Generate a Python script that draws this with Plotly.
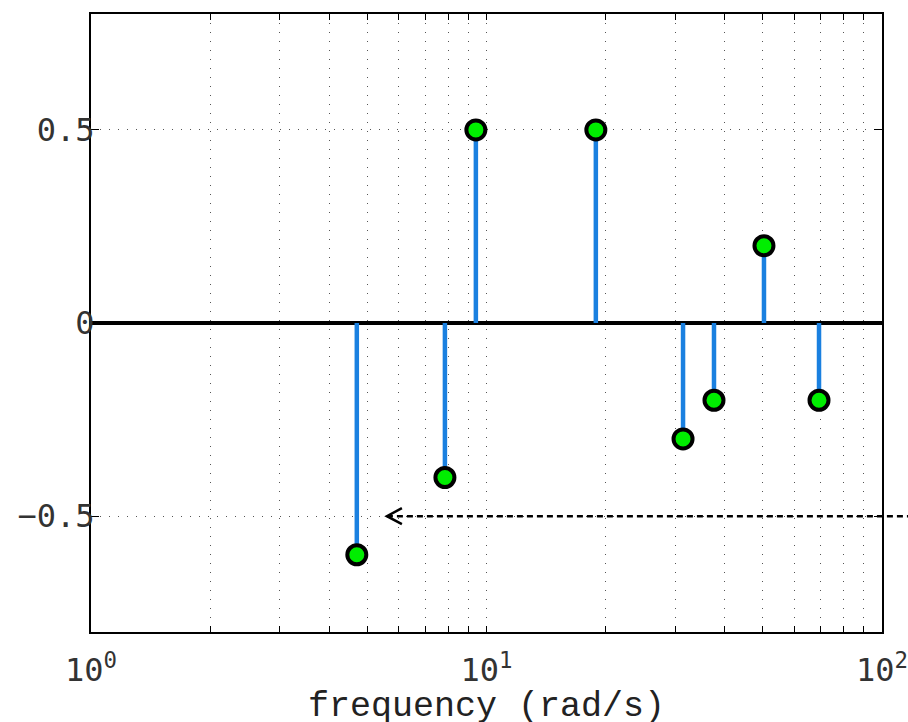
import plotly.graph_objects as go
import math

# ---- data ----
freqs = [4.7, 7.85, 9.4, 18.9, 31.4, 37.6, 50.3, 69.3]
values = [-0.6, -0.4, 0.5, 0.5, -0.3, -0.2, 0.2, -0.2]

x_range_log = [0, 2]          # 10^0 .. 10^2
y_range = [-0.8, 0.8]
y_ticks = [-0.5, 0, 0.5]
y_ticktext = ["\u22120.5", "0", "0.5"]

x_tickvals = [m * 10 ** d for d in range(0, 2) for m in range(1, 10)] + [100]
x_ticktext = [("10<sup>%d</sup>" % int(round(math.log10(v)))) if abs(math.log10(v) - round(math.log10(v))) < 1e-9 else "" for v in x_tickvals]
x_title = "frequency (rad/s)"

arrow_tip_x = 5.6
arrow_y = -0.5

# ---- stems ----
stem_x, stem_y = [], []
for f, v in zip(freqs, values):
    stem_x += [f, f, None]
    stem_y += [0, v, None]

fig = go.Figure()
fig.add_trace(go.Scatter(x=stem_x, y=stem_y, mode="lines",
                         line=dict(color="#1a80e0", width=4.5),
                         hoverinfo="skip", showlegend=False))
fig.add_trace(go.Scatter(x=freqs, y=values, mode="markers",
                         marker=dict(color="#00ee00", size=19,
                                     line=dict(color="black", width=4)),
                         showlegend=False))

# arrow (dashed line extending beyond the frame + open arrowhead)
tip_dom = (math.log10(arrow_tip_x) - x_range_log[0]) / (x_range_log[1] - x_range_log[0])
y_dom = (arrow_y - y_range[0]) / (y_range[1] - y_range[0])
fig.add_shape(type="line", xref="x domain", yref="y domain",
              x0=tip_dom, x1=1.1, y0=y_dom, y1=y_dom,
              line=dict(color="black", width=2.5, dash="6px,4px"))
fig.add_shape(type="path", xref="x domain", yref="y domain",
              xsizemode="pixel", ysizemode="pixel",
              xanchor=tip_dom, yanchor=y_dom,
              path="M 15 8 L 0 0 L 15 -8",
              line=dict(color="black", width=2.5))

# x-axis title
fig.add_annotation(text=x_title, xref="x domain", yref="y domain",
                   x=0.5, y=0, xanchor="center", yanchor="top",
                   yshift=-53, showarrow=False,
                   font=dict(family="Liberation Mono", size=35, color="#222222"))

tick_font = dict(family="DejaVu Sans Mono", size=32, color="#333333")

fig.update_layout(
    width=908, height=722,
    margin=dict(l=91, r=26, t=14, b=90),
    paper_bgcolor="white", plot_bgcolor="white",
    xaxis=dict(
        type="log", range=x_range_log,
        tickmode="array", tickvals=x_tickvals, ticktext=x_ticktext,
        ticks="inside", ticklen=6, tickwidth=1, tickcolor="black",
        showline=True, linecolor="black", linewidth=2, mirror="ticks",
        showgrid=True, gridcolor="#555555", gridwidth=1, griddash="1px,8px",
        tickfont=tick_font, ticklabelstandoff=9, ticklabeloverflow="allow",
        automargin=False,
    ),
    yaxis=dict(
        range=y_range,
        tickmode="array", tickvals=y_ticks, ticktext=y_ticktext,
        ticks="inside", ticklen=8, tickwidth=1, tickcolor="black",
        showline=True, linecolor="black", linewidth=2, mirror="ticks",
        showgrid=True, gridcolor="#555555", gridwidth=1, griddash="1px,8px",
        zeroline=True, zerolinecolor="black", zerolinewidth=4,
        tickfont=tick_font, ticklabelstandoff=-12, ticklabeloverflow="allow",
        automargin=False,
    ),
)

fig.write_html("out.html")
